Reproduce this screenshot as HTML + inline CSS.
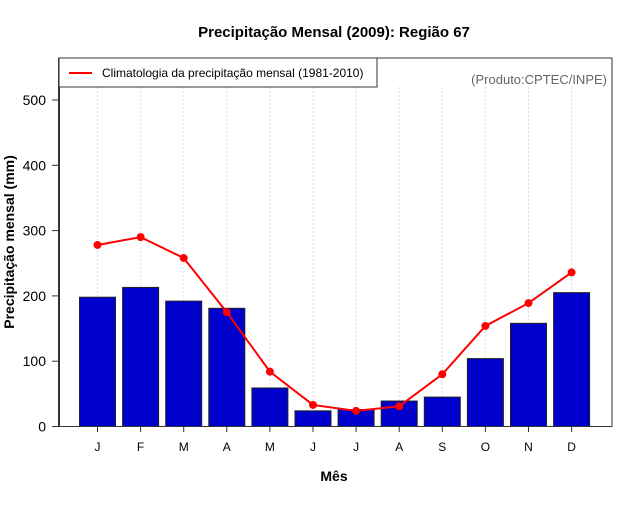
<!DOCTYPE html>
<html><head><meta charset="utf-8"><style>body{margin:0;background:#fff}svg{font-family:"Liberation Sans",sans-serif}</style></head>
<body>
<svg width="640" height="500" viewBox="0 0 640 500">
<text x="334" y="37" text-anchor="middle" font-weight="bold" font-size="15">Precipitação Mensal (2009): Região 67</text>
<g id="grid"></g>
<g id="bars"></g>
<g id="line"></g>
<rect x="59" y="58" width="553" height="368.5" fill="none" stroke="#333" stroke-width="1"/>
<line x1="59" y1="58" x2="59" y2="426.5" stroke="#333" stroke-width="2"/>
<g id="yaxis"></g>
<g id="xaxis"></g>
<g>
<rect x="59" y="58" width="318" height="29" fill="#fff" stroke="#333"/>
<line x1="69" y1="73" x2="92" y2="73" stroke="red" stroke-width="2"/>
<text x="102" y="77" font-size="12">Climatologia da precipitação mensal (1981-2010)</text>
</g>
<text x="607" y="84" text-anchor="end" font-size="13" fill="#666">(Produto:CPTEC/INPE)</text>
<text x="14" y="242" transform="rotate(-90 14 242)" text-anchor="middle" font-weight="bold" font-size="14">Precipitação mensal (mm)</text>
<text x="334" y="481" text-anchor="middle" font-weight="bold" font-size="14">Mês</text>
</svg>
<script>
const months=["J","F","M","A","M","J","J","A","S","O","N","D"];
const observed=[198,213,192,181,59,24,26,39,45,104,158,205];
const climatology=[278,290,258,175,84,33,24,31,80,154,189,236];
const yTicks=[0,100,200,300,400,500];
const NS="http://www.w3.org/2000/svg";
function xs(i){return 97.5+i*43.1;}
function ys(v){return 426.5-v*0.6530;}
function mk(t,a,p){const e=document.createElementNS(NS,t);for(const k in a)e.setAttribute(k,a[k]);document.getElementById(p).appendChild(e);return e;}
months.forEach((m,i)=>{
 const g=mk("line",{x1:xs(i),x2:xs(i),y1:87,y2:426,stroke:"#ddd","stroke-dasharray":"2,2"},"grid");
 
 
 const b=mk("rect",{x:xs(i)-18,y:ys(observed[i]),width:36,height:ys(0)-ys(observed[i]),fill:"#0000cc",stroke:"#222","stroke-width":1},"bars");
 
 
 const tk=mk("line",{x1:xs(i),x2:xs(i),y1:426.5,y2:432,stroke:"#333"},"xaxis");
 
 
 const t=mk("text",{x:xs(i),y:451,"text-anchor":"middle","font-size":12},"xaxis");
 t.textContent=m;
 
 
});
const pts=climatology.map((v,i)=>xs(i)+","+ys(v)).join(" ");
const pl=mk("polyline",{points:pts,fill:"none",stroke:"red","stroke-width":2},"line");


climatology.forEach((v,i)=>{
 const c=mk("circle",{cx:xs(i),cy:ys(v),r:4,fill:"red"},"line");
 
 
});
yTicks.forEach(v=>{
 const l=mk("line",{x1:52,x2:59,y1:ys(v),y2:ys(v),stroke:"#333"},"yaxis");
 
 
 const t=mk("text",{x:46,y:ys(v)+5,"text-anchor":"end","font-size":14},"yaxis");
 t.textContent=v;
 
 
});
</script>
</body></html>
